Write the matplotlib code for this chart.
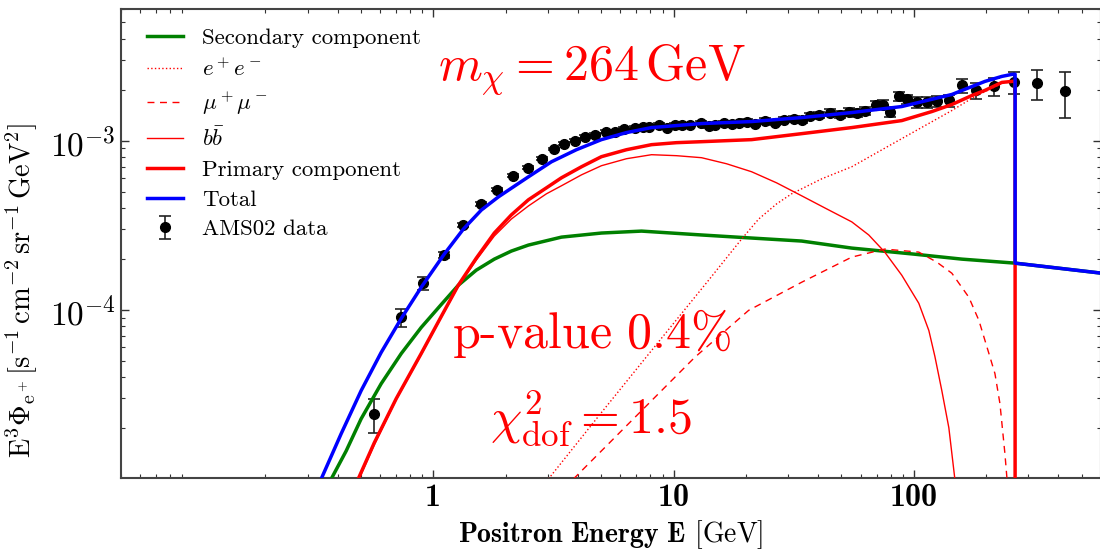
import matplotlib
matplotlib.use("Agg")
import matplotlib.pyplot as plt
import numpy as np
from matplotlib.ticker import FixedLocator, LogLocator, NullFormatter

plt.rcParams["font.family"] = "serif"
plt.rcParams["font.serif"] = ["cmr10"]
plt.rcParams["mathtext.fontset"] = "cm"
plt.rcParams["axes.formatter.use_mathtext"] = True
plt.rcParams["axes.unicode_minus"] = False

# AMS02 positron data, E [GeV] and E^3 flux [1e-3 s^-1 cm^-2 sr^-1 GeV^2]
ams_E = [0.568, 0.736, 0.908, 1.111, 1.334, 1.585, 1.848, 2.154, 2.488, 2.846,
         3.193, 3.515, 3.905, 4.299, 4.732, 5.21, 5.73, 6.25, 6.88, 7.43,
         7.94, 8.66, 9.35, 10.10, 10.80, 11.66, 12.96, 13.99, 14.82, 16.16,
         17.45, 18.66, 20.15, 21.76, 23.94, 26.35, 28.73, 31.62, 34.15, 36.87,
         40.2, 44.67, 49.17, 53.6, 57.9, 62.5, 69.5, 74.3, 79.4, 86.6,
         93.5, 102.9, 113.3, 124.7, 139.9, 158.5, 181.3, 215.4, 261.0, 325.4,
         425.9]
ams_flux = [0.0243, 0.0903, 0.1437, 0.2105, 0.317, 0.423, 0.512, 0.620, 0.691, 0.782,
            0.896, 0.960, 1.000, 1.056, 1.085, 1.131, 1.131, 1.178, 1.195, 1.211,
            1.211, 1.245, 1.195, 1.245, 1.245, 1.245, 1.279, 1.227, 1.245, 1.279,
            1.262, 1.279, 1.297, 1.262, 1.314, 1.279, 1.332, 1.351, 1.332, 1.407,
            1.427, 1.466, 1.427, 1.486, 1.466, 1.507, 1.635, 1.635, 1.486, 1.824,
            1.751, 1.681, 1.681, 1.704, 1.728, 2.121, 1.981, 2.092, 2.210, 2.179,
            1.953]
ams_err = [0.0055, 0.011, 0.012, 0.009, 0.010, 0.010, 0.011, 0.012, 0.013, 0.014,
           0.015, 0.016, 0.017, 0.018, 0.019, 0.020, 0.021, 0.022, 0.023, 0.024,
           0.025, 0.026, 0.026, 0.027, 0.028, 0.029, 0.030, 0.031, 0.032, 0.033,
           0.035, 0.036, 0.038, 0.040, 0.042, 0.044, 0.046, 0.049, 0.052, 0.056,
           0.060, 0.064, 0.068, 0.073, 0.078, 0.083, 0.090, 0.096, 0.100, 0.110,
           0.115, 0.120, 0.125, 0.130, 0.140, 0.200, 0.210, 0.250, 0.330, 0.440,
           0.600]

# model curves (E [GeV], E^3 flux [1e-3 ...])
sec_E = [0.376, 0.434, 0.501, 0.607, 0.736, 0.891, 1.080, 1.271, 1.510, 1.795, 2.113, 2.488,
         3.415, 5.01, 7.36, 13.08, 21.13, 34.15, 55.2, 100.0, 158.5, 264.0, 607.0]
sec_flux = [0.0100, 0.01466, 0.0227, 0.0366, 0.0552, 0.0787, 0.1076, 0.1397, 0.1716, 0.1994, 0.2225, 0.2414,
            0.269, 0.2844, 0.292, 0.277, 0.2657, 0.255, 0.2317, 0.2135, 0.1994, 0.1888, 0.1646]

ee_E = [3.014, 5.01, 8.10, 13.99, 19.2, 22.61, 26.86, 31.0, 41.4, 55.2, 89.1, 144.0, 179.6,
        232.6, 256.1, 264.0, 264.0]
ee_flux = [0.0100, 0.0247, 0.0575, 0.1496, 0.262, 0.344, 0.423, 0.485, 0.595, 0.701, 1.028, 1.507, 1.824,
           2.179, 2.239, 2.25, 0.0001]

mumu_E = [3.831, 6.07, 12.24, 20.54, 34.15, 55.2, 75.7, 104.9, 124.7, 144.0, 169.5, 186.6,
          205.4, 217.6, 228.3, 239.5, 244.1, 247.0]
mumu_flux = [0.0100, 0.01927, 0.0523, 0.0993, 0.1456, 0.205, 0.2286, 0.2194, 0.1913, 0.1646, 0.1186, 0.0866,
             0.0552, 0.0420, 0.0279, 0.01407, 0.01014, 0.003]

bb_E = [0.491, 0.568, 0.701, 0.891, 1.080, 1.271, 1.510, 1.795, 2.113, 2.488, 2.957, 3.415,
        4.14, 5.01, 6.37, 8.10, 10.29, 13.08, 16.63, 21.13, 26.86, 34.15, 43.4, 55.2,
        64.94, 75.7, 89.1, 104.9, 115.5, 122.4, 130.8, 139.9, 148.2, 157.0]
bb_flux = [0.0100, 0.01591, 0.02944, 0.0544, 0.0903, 0.1378, 0.1967, 0.273, 0.344, 0.411, 0.485, 0.541,
           0.628, 0.711, 0.782, 0.826, 0.815, 0.793, 0.730, 0.655, 0.563, 0.472, 0.395, 0.331,
           0.277, 0.2194, 0.1602, 0.1093, 0.0755, 0.0530, 0.0333, 0.0201, 0.0100, 0.003]

prim_E = [0.487, 0.568, 0.701, 0.891, 1.080, 1.271, 1.510, 1.795, 2.113, 2.488, 2.957, 3.415,
          4.14, 5.01, 6.37, 8.10, 10.29, 13.08, 21.13, 34.15, 55.2, 89.1, 118.9, 144.0,
          174.5, 197.6, 232.6, 256.1, 264.0, 264.0]
prim_flux = [0.0100, 0.01635, 0.02985, 0.0552, 0.0915, 0.1397, 0.202, 0.2844, 0.364, 0.447, 0.526, 0.603,
             0.701, 0.804, 0.884, 0.947, 0.973, 0.986, 1.014, 1.100, 1.195, 1.314, 1.486, 1.635,
             1.849, 1.981, 2.21, 2.239, 2.25, 0.0001]

tot_E = [0.3415, 0.4135, 0.501, 0.607, 0.736, 0.891, 1.111, 1.334, 1.585, 1.866, 2.154, 2.488,
         3.103, 3.943, 5.01, 6.37, 8.10, 13.08, 21.13, 34.15, 55.2, 89.1, 144.0, 197.6,
         232.6, 256.1, 264.0, 264.0, 607.0]
tot_flux = [0.0100, 0.0185, 0.0333, 0.0560, 0.0890, 0.1360, 0.2135, 0.300, 0.389, 0.465, 0.533, 0.611,
            0.750, 0.884, 1.014, 1.116, 1.195, 1.262, 1.297, 1.369, 1.466, 1.591, 1.875, 2.239,
            2.398, 2.465, 2.47, 0.1888, 0.1646]

def sc(v):
    return np.array(v) * 1e-3

fig = plt.figure(figsize=(11, 5.49), dpi=100)
ax = fig.add_axes([0.1097, 0.1288, 0.8910, 0.8548])

ax.plot(sec_E, sc(sec_flux), color="green", lw=2.5, label="Secondary component", zorder=3)
ax.plot(ee_E, sc(ee_flux), color="red", lw=1, ls=":", label="$e^+e^-$", zorder=3)
ax.plot(mumu_E, sc(mumu_flux), color="red", lw=1, ls="--", dashes=(5, 4), label=r"$\mu^+\mu^-$", zorder=3)
ax.plot(bb_E, sc(bb_flux), color="red", lw=1, label=r"$b\bar{b}$", zorder=3)
ax.plot(prim_E, sc(prim_flux), color="red", lw=2.5, label="Primary component", zorder=3)
ax.plot(tot_E, sc(tot_flux), color="blue", lw=2.5, label="Total", zorder=4)
ax.errorbar(ams_E, sc(ams_flux), yerr=sc(ams_err), fmt="o", color="k", ecolor="#222222",
            ms=7, elinewidth=1.2, capsize=4, capthick=1.2, label="AMS02 data", zorder=2)

ax.set_xscale("log")
ax.set_yscale("log")
ax.set_xlim(0.05, 600)
ax.set_ylim(1.01e-5, 6.0e-3)

ax.xaxis.set_major_locator(FixedLocator([1, 10, 100]))
ax.set_xticklabels(["1", "10", "100"], fontfamily="cmb10", fontsize=23)
ax.xaxis.set_minor_locator(LogLocator(base=10, subs=np.arange(2, 10)))
ax.xaxis.set_minor_formatter(NullFormatter())
ax.yaxis.set_minor_locator(LogLocator(base=10, subs=np.arange(2, 10)))
ax.yaxis.set_minor_formatter(NullFormatter())
ax.tick_params(axis="y", which="major", labelsize=24)
ax.tick_params(which="both", direction="in", top=True, right=True, color="#333333")
ax.tick_params(which="major", length=6, width=1)
ax.tick_params(which="minor", length=3, width=0.8)
for s in ax.spines.values():
    s.set_color("#444444")
    s.set_linewidth(1.5)

ax.set_xlabel(r"Positron Energy E $[\mathrm{GeV}]$", fontfamily="cmb10", fontsize=20, labelpad=4)
ax.set_ylabel(r"$\mathrm{E^3\Phi_{e^+}}[\mathrm{s^{-1}\,cm^{-2}\,sr^{-1}\,GeV^2}]$", fontsize=20.5)
ax.yaxis.set_label_coords(-0.083, 0.40)

ax.text(0.324, 0.849, r"$m_\chi = 264\,\mathrm{GeV}$", transform=ax.transAxes,
        color="red", fontsize=36, va="baseline")
ax.text(0.338, 0.278, r"$\mathrm{p}$-$\mathrm{value}\ 0.4\%$", transform=ax.transAxes,
        color="red", fontsize=36, va="baseline")
ax.text(0.377, 0.0965, r"$\chi^2_\mathrm{dof} = 1.5$", transform=ax.transAxes,
        color="red", fontsize=36, va="baseline")

ax.legend(loc="upper left", bbox_to_anchor=(0.018, 0.98), frameon=False, fontsize=16.5,
          handlelength=1.55, handletextpad=0.85, labelspacing=0.42, borderaxespad=0)

fig.savefig("out.png", dpi=100)
